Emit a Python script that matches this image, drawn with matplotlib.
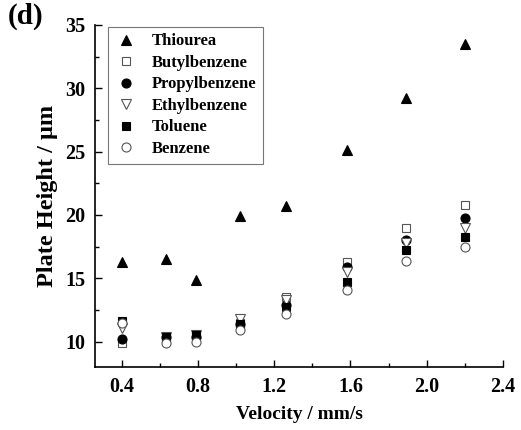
"""Plate height vs. linear velocity for the test analytes."""
import matplotlib.pyplot as plt
from matplotlib.ticker import MultipleLocator

plt.rcParams["font.family"] = ["Liberation Serif", "DejaVu Serif"]
plt.rcParams["font.weight"] = "bold"

velocity = [0.40, 0.63, 0.79, 1.02, 1.26, 1.58, 1.89, 2.20]

thiourea = [16.3, 16.5, 14.9, 19.9, 20.7, 25.1, 29.2, 33.5]
butylbenzene = [9.9, 10.4, 10.5, 11.5, 13.5, 16.3, 19.0, 20.8]
propylbenzene = [10.2, 10.4, 10.4, 11.4, 12.9, 15.9, 18.05, 19.75]
ethylbenzene = [11.1, 10.4, 10.5, 11.8, 13.3, 15.5, 17.8, 19.0]
toluene = [11.6, 10.4, 10.5, 11.4, 12.7, 14.7, 17.25, 18.25]
benzene = [11.5, 9.9, 10.0, 10.9, 12.2, 14.1, 16.4, 17.5]

series = [
    ("Thiourea", thiourea, "^", "black", "black", 7.5),
    ("Butylbenzene", butylbenzene, "s", "white", "#555555", 5.5),
    ("Propylbenzene", propylbenzene, "o", "black", "black", 6.5),
    ("Ethylbenzene", ethylbenzene, "v", "white", "#555555", 7),
    ("Toluene", toluene, "s", "black", "black", 5.5),
    ("Benzene", benzene, "o", "white", "#555555", 6.5),
]

fig = plt.figure(figsize=(5.21, 4.30), dpi=100)
ax = fig.add_axes([0.1823, 0.1465, 0.7832, 0.7954])

for name, vals, marker, face, edge, size in series:
    ax.plot(velocity, vals, linestyle="none", marker=marker, markersize=size,
            markerfacecolor=face, markeredgecolor=edge, markeredgewidth=0.8,
            label=name)

ax.set_xlim(0.26, 2.4)
ax.set_ylim(8, 35)
ax.xaxis.set_major_locator(MultipleLocator(0.4))
ax.xaxis.set_minor_locator(MultipleLocator(0.2))
ax.yaxis.set_major_locator(MultipleLocator(5))
ax.yaxis.set_minor_locator(MultipleLocator(2.5))
ax.set_xticks([0.4, 0.8, 1.2, 1.6, 2.0, 2.4])
ax.set_xticklabels(["0.4", "0.8", "1.2", "1.6", "2.0", "2.4"])

for side in ("top", "right"):
    ax.spines[side].set_visible(False)
for side in ("left", "bottom"):
    ax.spines[side].set_linewidth(1.2)

ax.tick_params(which="major", direction="in", length=5, width=1.0,
               labelsize=14.5, pad=7)
ax.tick_params(which="minor", direction="in", length=3, width=1.0)

ax.set_xlabel("Velocity / mm/s", fontsize=14, fontweight="bold", labelpad=7)
ax.set_ylabel("Plate Height / μm", fontsize=17.5, fontweight="bold", labelpad=5)

leg = ax.legend(loc="upper left", bbox_to_anchor=(0.032, 0.995), fontsize=12,
                frameon=True, fancybox=False, edgecolor="#555555",
                handletextpad=0.8, labelspacing=0.33, borderpad=0.4,
                handlelength=1.4, borderaxespad=0)
leg.get_frame().set_linewidth(0.8)
for t in leg.get_texts():
    t.set_fontweight("bold")

fig.text(0.015, 0.962, "(d)", fontsize=21, fontweight="bold", va="center")

fig.savefig("out.png", dpi=100)
